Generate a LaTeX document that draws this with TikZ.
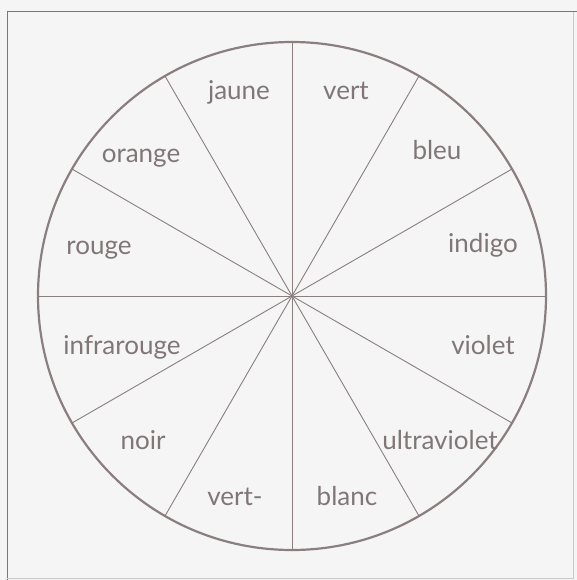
\documentclass[tikz,border=0pt]{standalone}
\usepackage{fontspec}
\setmainfont{Lato}
\usepackage{xcolor}
\usepackage{tikz}
\usetikzlibrary{arrows.meta, positioning, calc}

\definecolor{paper}{RGB}{245,245,245}
\definecolor{wheelline}{RGB}{138,126,127}
\definecolor{wheeltext}{RGB}{128,118,120}
\definecolor{framegray}{RGB}{120,120,120}

\tikzset{
	wheel/.style={wheelline, line width=2.2pt},
	spoke/.style={wheelline, line width=0.9pt},
	colourname/.style={wheeltext, font=\fontsize{26}{30}\selectfont, inner sep=0pt}
}

\begin{document}
\begin{tikzpicture}[x=1pt, y=-1pt]
		
		% Paper
		\fill[paper] (0,0) rectangle (577,580);
		\useasboundingbox (0,0) rectangle (577,580);
		
		% Frame
		\draw[framegray, line width=1pt] (7,580) -- (7,12) -- (577,12);
		\draw[framegray!40, line width=0.8pt] (573,12) -- (573,578) -- (7,578);
		
		% Centre of the wheel
		\coordinate (c) at (292,296);
		
		% Spokes
		\foreach \a in {0,30,...,330}
		\draw[spoke] (c) -- ($(c)+(\a:254pt)$);
		
		% Rim
		\draw[wheel] (c) circle (254pt);
		
		% Colour names
		\foreach \name/\txt/\x/\y in {
			jaune/jaune/239/93,
			vert/vert/346/93,
			bleu/bleu/437/153,
			indigo/indigo/483/245,
			violet/violet/483/347,
			ultra/ultraviolet/440/442,
			blanc/blanc/347/498,
			vertm/vert-/235/498,
			noir/noir/143/442,
			infra/infrarouge/122/347,
			rouge/rouge/99/247,
			orange/orange/141/155
		}{
			\node[colourname, anchor=base] (\name) at (\x,\y+7) {\txt};
		}
		
	\end{tikzpicture}
\end{document}
